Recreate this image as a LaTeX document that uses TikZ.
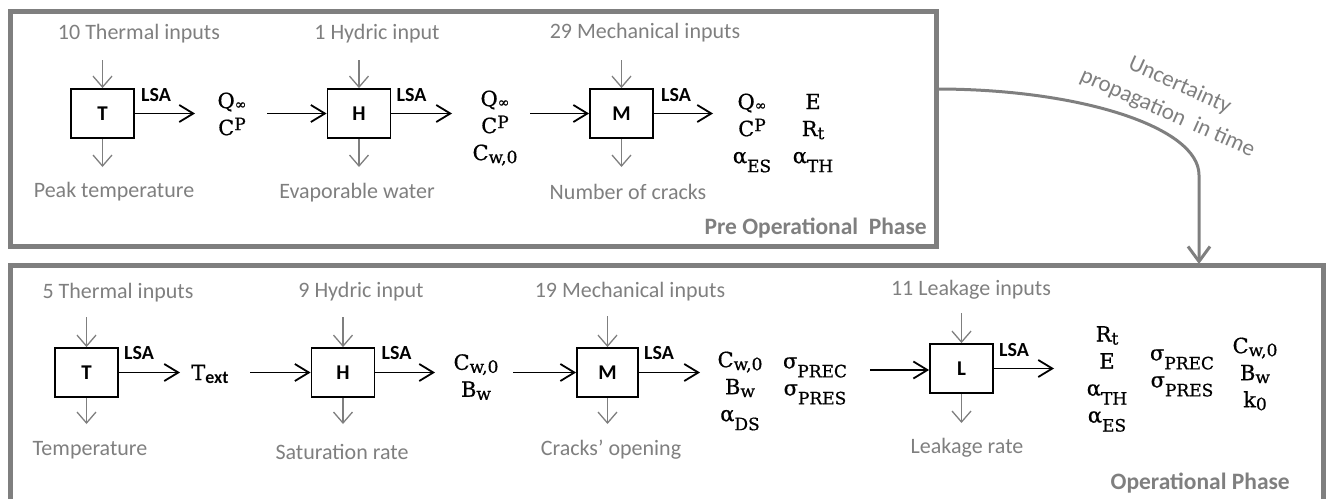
\documentclass[tikz,border=0pt]{standalone}
\usepackage{fontspec}
\setmainfont{Carlito}
\newfontfamily\sr[FakeBold=0.7]{DejaVu Serif}
\usetikzlibrary{arrows.meta}
\definecolor{gry}{RGB}{127,127,127}
\newcommand\sbl[1]{\raisebox{-3pt}{\fontsize{17}{17}\selectfont #1}}
\newcommand\sbg[1]{\raisebox{-9pt}{\fontsize{17}{17}\selectfont #1}}
\newcommand\spx[1]{\raisebox{5pt}{\fontsize{17}{17}\selectfont #1}}
\newcommand\myQ{Q\raisebox{-1pt}{\fontsize{14}{14}\selectfont ∞}}
\newcommand\myCP{C\spx{P}}
\newcommand\myCw{C\sbl{w,0}}
\newcommand\myBw{B\sbl{w}}
\newcommand\myaES{α\sbg{ES}}
\newcommand\myaTH{α\sbg{TH}}
\newcommand\myaDS{α\sbg{DS}}
\newcommand\myRt{R\sbl{t}}
\newcommand\myE{E}
\newcommand\mysPREC{σ\sbg{PREC}}
\newcommand\mysPRES{σ\sbg{PRES}}
\newcommand\myk{k\sbl{0}}
\newcommand\myT{T\raisebox{-3pt}{\fontsize{18}{18}\selectfont\normalfont\bfseries ext}}
\tikzset{
 blk/.style={draw=black, line width=1.8pt, minimum width=63pt, minimum height=49pt, inner sep=0pt, font=\fontsize{21}{25}\selectfont\bfseries},
 lbl/.style={text=gry, font=\fontsize{22}{26}\selectfont, inner sep=0pt},
 lsa/.style={font=\fontsize{20}{24}\selectfont\bfseries, inner sep=0pt, anchor=west},
 stk/.style={align=center, font=\sr\fontsize{21}{27}\selectfont, inner sep=0pt},
 ph/.style={text=gry, font=\fontsize{23.5}{28}\selectfont\bfseries, inner sep=0pt, anchor=east},
 oarr/.style={draw=black, line width=1.8pt, -{Straight Barb[length=14pt,width=17pt,line width=1.8pt]}},
 garr/.style={draw=gry, line width=1.3pt, -{Straight Barb[length=11pt,width=19pt,line width=1.3pt]}},
 frm/.style={draw=gry, line width=5pt},
}
\begin{document}
\begin{tikzpicture}[x=1pt,y=-1pt]
\useasboundingbox (0,0) rectangle (1328,498);
% frames
\draw[frm] (10,11) rectangle (936,246);
\draw[frm] (10,502) -- (10,265.5) -- (1323,265.5) -- (1323,502);
% ---------- top panel ----------
\node[blk] (T1) at (102.5,113.5) {T};
\node[blk] (H1) at (359,113.5) {H};
\node[blk] (M1) at (621.5,113.5) {M};
\node[lbl] (T1i) at (139,34) {10 Thermal inputs};
\node[lbl] (H1i) at (377,34) {1 Hydric input};
\node[lbl] (M1i) at (645,33) {29 Mechanical inputs};
\coordinate (T1a) at (102.5,60);
\coordinate (H1a) at (359,60);
\coordinate (M1a) at (621.5,60);
\coordinate (T1b) at (102.5,167);
\coordinate (H1b) at (359,167);
\coordinate (M1b) at (621.5,167);
\draw[garr] (T1a) -- (T1.north);
\draw[garr] (H1a) -- (H1.north);
\draw[garr] (M1a) -- (M1.north);
\draw[garr] (T1.south) -- (T1b);
\draw[garr] (H1.south) -- (H1b);
\draw[garr] (M1.south) -- (M1b);
\node[lbl] (T1o) at (114,192) {Peak temperature};
\node[lbl] (H1o) at (357,193) {Evaporable water};
\node[lbl] (M1o) at (628,192) {Number of cracks};
\node[lsa] (T1l) at ([xshift=6pt,yshift=18pt]T1.east) {LSA};
\node[lsa] (H1l) at ([xshift=5pt,yshift=18pt]H1.east) {LSA};
\node[lsa] (M1l) at ([xshift=7pt,yshift=18pt]M1.east) {LSA};
\coordinate (T1c) at (195,113.5);
\coordinate (H1c) at (452,113.5);
\coordinate (M1c) at (713,113.5);
\coordinate (H1d) at (267,113.5);
\coordinate (M1d) at (530,113.5);
\draw[oarr] (T1.east) -- (T1c);
\draw[oarr] (H1.east) -- (H1c);
\draw[oarr] (M1.east) -- (M1c);
\draw[oarr] (H1d) -- (H1.west);
\draw[oarr] (M1d) -- (M1.west);
\node[stk] (S1) at (232,114) {\myQ\\\myCP};
\node[stk] (S2) at (495,128) {\myQ\\\myCP\\\myCw};
\node[stk] (S3) at (752,133) {\myQ\\\myCP\\\myaES};
\node[stk] (S4) at (813,133) {\myE\\\myRt\\\myaTH};
\node[ph] (P1) at (927,228) {Pre Operational\ \ Phase};
% uncertainty arrow
\coordinate (ua) at (936,89);
\coordinate (ub) at (1199,175);
\coordinate (uc) at (1199,264);
\draw[draw=gry, line width=3pt, -{Straight Barb[length=15pt,width=22pt,line width=3pt]}] (ua) .. controls (1081,89) and (1199,127.5) .. (ub) -- (uc);
\node[text=gry, rotate=-24, align=center, font=\fontsize{23}{30}\selectfont, inner sep=0pt] (ut) at (1173.5,99.5) {Uncertainty\\propagation\ \ in time};
% ---------- bottom panel ----------
\node[blk] (T2) at (86.5,372.5) {T};
\node[blk] (H2) at (343,372.5) {H};
\node[blk, minimum width=61pt] (M2) at (607.5,372.5) {M};
\node[blk] (L2) at (961.5,368.5) {L};
\node[lbl] (T2i) at (118,293) {5 Thermal inputs};
\node[lbl] (H2i) at (361,292) {9 Hydric input};
\node[lbl] (M2i) at (630,292) {19 Mechanical inputs};
\node[lbl] (L2i) at (971,290) {11 Leakage inputs};
\coordinate (T2a) at (86.5,317);
\coordinate (H2a) at (343,317);
\coordinate (M2a) at (607.5,316);
\coordinate (L2a) at (961.5,313);
\coordinate (T2b) at (86.5,424);
\coordinate (H2b) at (343,424);
\coordinate (M2b) at (607.5,424);
\coordinate (L2b) at (961.5,423);
\draw[garr] (T2a) -- (T2.north);
\draw[garr] (H2a) -- (H2.north);
\draw[garr] (M2a) -- (M2.north);
\draw[garr] (L2a) -- (L2.north);
\draw[garr] (T2.south) -- (T2b);
\draw[garr] (H2.south) -- (H2b);
\draw[garr] (M2.south) -- (M2b);
\draw[garr] (L2.south) -- (L2b);
\node[lbl] (T2o) at (90,450) {Temperature};
\node[lbl] (H2o) at (342,452) {Saturation rate};
\node[lbl] (M2o) at (611,450) {Cracks’ opening};
\node[lbl] (L2o) at (967,448) {Leakage rate};
\node[lsa] (T2l) at ([xshift=5pt,yshift=19pt]T2.east) {LSA};
\node[lsa] (H2l) at ([xshift=6pt,yshift=19pt]H2.east) {LSA};
\node[lsa] (M2l) at ([xshift=5pt,yshift=19pt]M2.east) {LSA};
\node[lsa] (L2l) at ([xshift=5pt,yshift=18pt]L2.east) {LSA};
\coordinate (T2c) at (180,372.5);
\coordinate (H2c) at (435,372.5);
\coordinate (M2c) at (700,372.5);
\coordinate (L2c) at (1054,368.5);
\coordinate (H2d) at (250,372.5);
\coordinate (M2d) at (513,372.5);
\coordinate (L2d) at (870,370);
\draw[oarr] (T2.east) -- (T2c);
\draw[oarr] (H2.east) -- (H2c);
\draw[oarr] (M2.east) -- (M2c);
\draw[oarr] (L2.east) -- (L2c);
\draw[oarr] (H2d) -- (H2.west |- H2d);
\draw[oarr] (M2d) -- (M2.west |- M2d);
\draw[oarr] (L2d) -- (L2.west |- L2d);
\node[stk] (S5) at (210,374) {\myT};
\node[stk] (S6) at (476,377) {\myCw\\\myBw};
\node[stk] (S7) at (740,391) {\myCw\\\myBw\\\myaDS};
\node[stk] (S8) at (815,381) {\mysPREC\\\mysPRES};
\node[stk] (S9) at (1107,379) {\myRt\\\myE\\\myaTH\\\myaES};
\node[stk] (S10) at (1182,373) {\mysPREC\\\mysPRES};
\node[stk] (S11) at (1255,374) {\myCw\\\myBw\\\myk};
\node[ph] (P2) at (1290,483) {Operational Phase};
\end{tikzpicture}
\end{document}
